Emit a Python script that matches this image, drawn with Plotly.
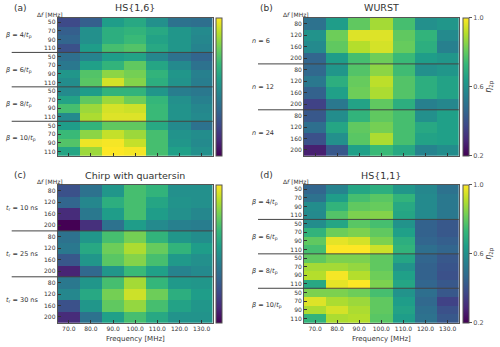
import plotly.graph_objects as go

W, H = 500, 347

freqs = [70, 80, 90, 100, 110, 120, 130]
freq_labels = ["70.0", "80.0", "90.0", "100.0", "110.0", "120.0", "130.0"]

# HS{1,6}: rows = beta groups x df (50, 70, 90, 110)
df_hs = [50, 70, 90, 110]
groups_hs = ["4", "6", "8", "10"]
eta_hs16 = [
    [0.38, 0.44, 0.64, 0.68, 0.60, 0.50, 0.49],
    [0.44, 0.60, 0.70, 0.72, 0.68, 0.62, 0.58],
    [0.46, 0.60, 0.70, 0.74, 0.66, 0.62, 0.57],
    [0.40, 0.64, 0.76, 0.78, 0.68, 0.62, 0.56],
    [0.49, 0.56, 0.64, 0.66, 0.57, 0.50, 0.46],
    [0.52, 0.65, 0.72, 0.80, 0.67, 0.58, 0.50],
    [0.62, 0.78, 0.86, 0.83, 0.72, 0.62, 0.55],
    [0.59, 0.79, 0.95, 0.85, 0.70, 0.61, 0.54],
    [0.58, 0.64, 0.72, 0.72, 0.62, 0.54, 0.52],
    [0.66, 0.80, 0.88, 0.82, 0.73, 0.60, 0.55],
    [0.76, 0.88, 0.95, 0.94, 0.74, 0.61, 0.57],
    [0.58, 0.90, 0.96, 0.96, 0.74, 0.61, 0.58],
    [0.64, 0.72, 0.80, 0.80, 0.68, 0.58, 0.50],
    [0.74, 0.86, 0.93, 0.88, 0.76, 0.61, 0.59],
    [0.78, 0.98, 0.99, 0.93, 0.76, 0.62, 0.58],
    [0.67, 0.88, 1.00, 0.99, 0.76, 0.65, 0.60],
]

# WURST: rows = n groups x df (80, 120, 160, 200)
df_wide = [80, 120, 160, 200]
groups_wurst = ["6", "12", "24"]
eta_wurst = [
    [0.50, 0.64, 0.80, 0.89, 0.76, 0.60, 0.62],
    [0.61, 0.82, 0.96, 0.96, 0.80, 0.72, 0.58],
    [0.58, 0.80, 0.91, 0.95, 0.81, 0.70, 0.55],
    [0.46, 0.64, 0.76, 0.82, 0.74, 0.64, 0.62],
    [0.47, 0.62, 0.78, 0.86, 0.75, 0.60, 0.62],
    [0.52, 0.70, 0.81, 0.92, 0.78, 0.70, 0.66],
    [0.45, 0.65, 0.82, 0.90, 0.78, 0.70, 0.66],
    [0.36, 0.52, 0.66, 0.80, 0.70, 0.55, 0.57],
    [0.42, 0.59, 0.72, 0.80, 0.76, 0.60, 0.65],
    [0.49, 0.67, 0.80, 0.83, 0.76, 0.68, 0.65],
    [0.40, 0.60, 0.79, 0.90, 0.76, 0.66, 0.65],
    [0.27, 0.42, 0.65, 0.74, 0.68, 0.56, 0.59],
]

# Chirp with quartersin: rows = t_r groups x df (80, 120, 160, 200)
groups_chirp = ["10", "25", "30"]
eta_chirp = [
    [0.40, 0.50, 0.62, 0.76, 0.72, 0.60, 0.60],
    [0.46, 0.57, 0.70, 0.76, 0.67, 0.61, 0.60],
    [0.30, 0.52, 0.64, 0.76, 0.64, 0.60, 0.57],
    [0.20, 0.31, 0.50, 0.64, 0.58, 0.55, 0.54],
    [0.50, 0.62, 0.76, 0.83, 0.72, 0.62, 0.59],
    [0.52, 0.68, 0.82, 0.90, 0.81, 0.72, 0.64],
    [0.42, 0.62, 0.79, 0.85, 0.76, 0.63, 0.60],
    [0.28, 0.47, 0.62, 0.74, 0.65, 0.56, 0.58],
    [0.52, 0.62, 0.76, 0.89, 0.73, 0.63, 0.62],
    [0.57, 0.68, 0.83, 0.94, 0.82, 0.70, 0.64],
    [0.40, 0.62, 0.80, 0.87, 0.76, 0.66, 0.62],
    [0.30, 0.50, 0.65, 0.76, 0.68, 0.61, 0.61],
]

# HS{1,1}: rows = beta groups x df (50, 70, 90, 110)
eta_hs11 = [
    [0.46, 0.56, 0.67, 0.70, 0.62, 0.57, 0.50],
    [0.50, 0.64, 0.76, 0.79, 0.72, 0.58, 0.52],
    [0.59, 0.72, 0.80, 0.81, 0.68, 0.58, 0.52],
    [0.58, 0.78, 0.84, 0.85, 0.67, 0.58, 0.52],
    [0.59, 0.67, 0.79, 0.76, 0.61, 0.45, 0.42],
    [0.72, 0.82, 0.84, 0.80, 0.65, 0.45, 0.42],
    [0.80, 0.97, 0.95, 0.84, 0.70, 0.46, 0.44],
    [0.76, 1.00, 1.00, 0.94, 0.72, 0.49, 0.46],
    [0.80, 0.84, 0.84, 0.80, 0.67, 0.46, 0.42],
    [0.89, 0.89, 0.87, 0.80, 0.61, 0.45, 0.41],
    [0.91, 0.99, 0.91, 0.82, 0.65, 0.45, 0.40],
    [0.68, 0.97, 1.00, 0.84, 0.67, 0.46, 0.42],
    [0.84, 0.84, 0.82, 0.76, 0.61, 0.49, 0.42],
    [0.96, 0.90, 0.88, 0.80, 0.64, 0.47, 0.36],
    [0.90, 0.95, 0.90, 0.80, 0.66, 0.49, 0.40],
    [0.72, 0.90, 0.91, 0.79, 0.64, 0.50, 0.42],
]

FONT = "DejaVu Sans"
TXT = "#333333"
FRAME = "#555555"

# panel boxes in pixels: x0, x1, y0 (top), y1 (bottom)
panels = [
    dict(key="", letter="(a)", title="HS{1,6}", z=eta_hs16, df=df_hs,
         groups=[f"<i>β</i> = {g}/<i>t</i><sub>p</sub>" for g in groups_hs],
         box=(57.7, 212.7, 18, 155.7), cb=216, right=False, bottom=False),
    dict(key="2", letter="(b)", title="WURST", z=eta_wurst, df=df_wide,
         groups=[f"<i>n</i> = {g}" for g in groups_wurst],
         box=(304, 458.7, 18, 155.7), cb=462.7, right=True, bottom=False),
    dict(key="3", letter="(c)", title="Chirp with quartersin", z=eta_chirp, df=df_wide,
         groups=[f"<i>t</i><sub>r</sub> = {g} ns" for g in groups_chirp],
         box=(57.7, 212.7, 185, 322.7), cb=216, right=False, bottom=True),
    dict(key="4", letter="(d)", title="HS{1,1}", z=eta_hs11, df=df_hs,
         groups=[f"<i>β</i> = {g}/<i>t</i><sub>p</sub>" for g in groups_hs],
         box=(304, 458.7, 185, 322.7), cb=462.7, right=True, bottom=True),
]

fig = go.Figure()
annotations = []
shapes = []
layout = {}

for p in panels:
    x0, x1, y0, y1 = p["box"]
    k = p["key"]
    nrows = len(p["z"])
    rows = list(range(nrows))
    ticktext = [str(d) for d in p["df"]] * (nrows // len(p["df"]))

    cb = dict(x=p["cb"] / W, xanchor="left", xpad=0, ypad=0,
              thickness=6, thicknessmode="pixels",
              len=y1 - y0, lenmode="pixels",
              y=1 - (y0 + y1) / 2 / H, yanchor="middle",
              outlinewidth=1, outlinecolor=FRAME)
    if p["right"]:
        cb.update(tickvals=[0.2, 0.6, 1.0], ticktext=["0.2", "0.6", "1.0"],
                  ticks="outside", ticklen=3, tickcolor=FRAME,
                  tickfont=dict(size=6.5, family=FONT, color="#555555"))
    else:
        cb.update(showticklabels=False, ticks="")

    fig.add_trace(go.Heatmap(
        z=p["z"], x=freqs, y=rows,
        colorscale="Viridis", zmin=0.2, zmax=1.0,
        xaxis="x" + k, yaxis="y" + k, colorbar=cb,
        hoverongaps=False,
    ))

    layout["xaxis" + k] = dict(
        domain=[x0 / W, x1 / W], anchor="y" + k,
        tickvals=freqs, ticktext=freq_labels, showticklabels=p["bottom"],
        ticks="inside", ticklen=3, tickcolor="#333333",
        tickfont=dict(size=6, family=FONT, color=TXT),
        showline=True, mirror=True, linecolor=FRAME, linewidth=1,
        showgrid=False, zeroline=False, fixedrange=True,
    )
    layout["yaxis" + k] = dict(
        domain=[1 - y1 / H, 1 - y0 / H], anchor="x" + k,
        autorange="reversed", tickvals=rows, ticktext=ticktext,
        ticks="inside", ticklen=3, tickcolor="#333333",
        tickfont=dict(size=6, family=FONT, color=TXT),
        showline=True, mirror=True, linecolor=FRAME, linewidth=1,
        showgrid=False, zeroline=False, fixedrange=True,
    )

    xd = "x" + k + " domain" if k else "x domain"
    yr = "y" + k if k else "y"
    ng = len(p["groups"])
    per = nrows // ng
    width = x1 - x0
    for gi, g in enumerate(p["groups"]):
        annotations.append(dict(
            text=g, xref=xd, yref=yr, x=0, y=gi * per + (per - 1) / 2,
            xanchor="left", xshift=-54, yanchor="middle", showarrow=False,
            font=dict(size=6.5, family=FONT, color=TXT),
        ))
        if gi > 0:
            shapes.append(dict(
                type="line", xref=xd, yref=yr,
                x0=-46 / width, x1=1, y0=gi * per - 0.5, y1=gi * per - 0.5,
                line=dict(color="#444444", width=1), layer="above",
            ))

    # panel letter, title, df header
    annotations.append(dict(text=p["letter"], xref="paper", yref="paper",
                            x=(x0 - 46) / W, y=1 - (y0 - 10) / H,
                            xanchor="left", yanchor="middle", showarrow=False,
                            font=dict(size=9, family=FONT, color=TXT)))
    annotations.append(dict(text=p["title"], xref="paper", yref="paper",
                            x=(x0 + x1) / 2 / W, y=1 - (y0 - 10) / H,
                            xanchor="center", yanchor="middle", showarrow=False,
                            font=dict(size=9.5, family=FONT, color=TXT)))
    annotations.append(dict(text="Δ<i>f</i> [MHz]", xref="paper", yref="paper",
                            x=(x0 - 8) / W, y=1 - (y0 - 4) / H,
                            xanchor="center", yanchor="middle", showarrow=False,
                            font=dict(size=6, family=FONT, color=TXT)))
    if p["bottom"]:
        annotations.append(dict(text="Frequency [MHz]", xref="paper", yref="paper",
                                x=(x0 + x1) / 2 / W, y=1 - 339 / H,
                                xanchor="center", yanchor="middle", showarrow=False,
                                font=dict(size=7, family=FONT, color=TXT)))
    if p["right"]:
        annotations.append(dict(text="<i>η</i><sub>2p</sub>", xref="paper", yref="paper",
                                x=490 / W, y=1 - (y0 + y1) / 2 / H,
                                xanchor="center", yanchor="middle", showarrow=False,
                                textangle=-90,
                                font=dict(size=8, family=FONT, color=TXT)))

fig.update_layout(
    width=W, height=H,
    margin=dict(l=0, r=0, t=0, b=0),
    paper_bgcolor="white", plot_bgcolor="white",
    font=dict(family=FONT, color=TXT),
    annotations=annotations, shapes=shapes,
    showlegend=False,
    **layout,
)

# the page body has a default margin; drop it so the figure sits at 0,0
fig.write_html("out.html", config={"displayModeBar": False},
               post_script="document.body.style.margin='0';")
